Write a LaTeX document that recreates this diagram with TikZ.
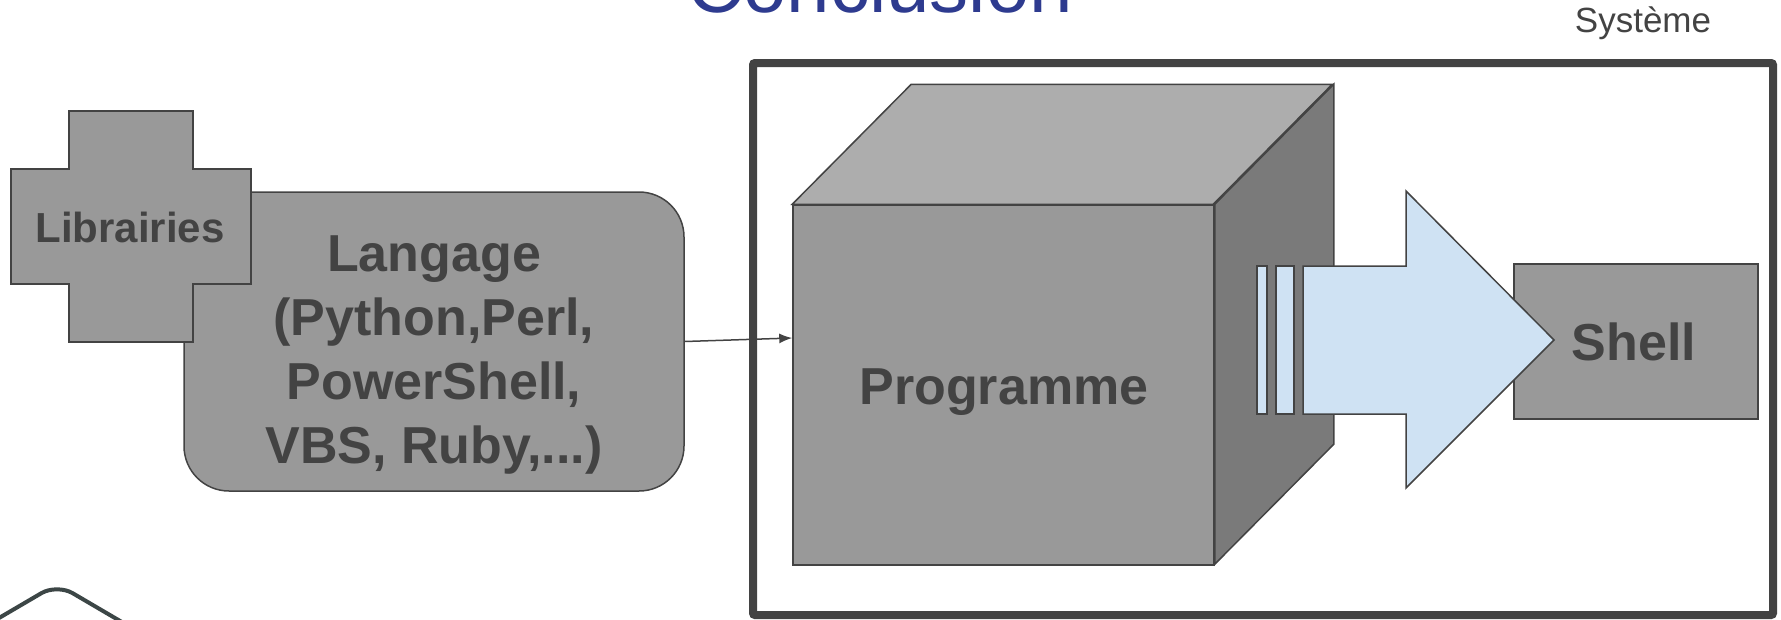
\documentclass[tikz,border=0pt]{standalone}
\usepackage{fontspec}
\setmainfont{Liberation Sans}
\usetikzlibrary{arrows.meta}
\definecolor{txt}{RGB}{67,67,67}
\definecolor{boxg}{RGB}{153,153,153}
\definecolor{topg}{RGB}{173,173,173}
\definecolor{sideg}{RGB}{122,122,122}
\definecolor{lblue}{RGB}{207,226,243}
\definecolor{ttl}{RGB}{46,59,143}
\definecolor{logo}{RGB}{60,70,70}
\begin{document}
\begin{tikzpicture}[x=1pt,y=-1pt,
  boxline/.style={draw=txt,line width=1.5pt,line join=miter},
  graybox/.style={boxline,fill=boxg,inner sep=0pt},
  barbox/.style={boxline,fill=lblue,inner sep=0pt},
  bigtxt/.style={text=txt,font=\bfseries\fontsize{52}{63.7}\selectfont},
  conn/.style={draw=txt,line width=1.5pt,-{Latex[length=13pt,width=10pt]}}]
\useasboundingbox (0,0) rectangle (1781,619);
\clip (0,0) rectangle (1781,619);

% title and system label
\node[anchor=base,text=ttl,font=\fontsize{78}{90}\selectfont] (title) at (880,12) {Conclusion};
\node[anchor=base,text=txt,font=\fontsize{35}{42}\selectfont] (sys) at (1643,32) {Système};

% system frame
\node[draw=txt,line width=8pt,rounded corners=2pt,inner sep=0pt,minimum width=1020pt,minimum height=552pt] (frame) at (1263,339) {};

% langage box
\node[graybox,rounded corners=45pt,minimum width=500pt,minimum height=299pt] (langage) at (434,341.5) {};
\node[bigtxt,align=center] (langtxt) at (434,355) {Langage\\(Python,Perl,\\PowerShell,\\VBS, Ruby,...)};

% librairies cross
\draw[graybox] (69,111) -- (193,111) -- (193,169) -- (251,169) -- (251,284) -- (193,284) -- (193,342) -- (69,342) -- (69,284) -- (11,284) -- (11,169) -- (69,169) -- cycle;
\node[anchor=base,text=txt,font=\bfseries\fontsize{42}{50}\selectfont] (libs) at (130,242) {Librairies};

% cube
\node[graybox,minimum width=421pt,minimum height=360pt] (prog) at (1003.5,385) {};
\draw[boxline,fill=topg] (prog.north west) -- ++(119,-120) -- ++(421,0) -- ++(-119,120) -- cycle;
\draw[boxline,fill=sideg] (prog.north east) -- ++(119,-120) -- ++(0,360) -- ++(-119,120) -- cycle;
\node[anchor=base,bigtxt] (progtxt) at (1004,404) {Programme};

% shell
\node[graybox,minimum width=244pt,minimum height=155pt] (shell) at (1636,341.5) {};
\node[anchor=base,bigtxt] (shelltxt) at (1634,360) {Shell};

% bars and big arrow
\node[barbox,minimum width=10pt,minimum height=148pt] (bar1) at (1262,340) {};
\node[barbox,minimum width=18pt,minimum height=148pt] (bar2) at (1285,340) {};
\draw[boxline,fill=lblue] (1303,266) -- (1406,266) -- (1406,191) -- (1554,340) -- (1406,488) -- (1406,414) -- (1303,414) -- cycle;

% connector
\draw[conn] (langage.east) -- ([yshift=47pt]prog.west);

% partial logo at bottom left
\draw[draw=logo,line width=4pt,fill=white,rounded corners=18pt] (-30,635) -- (57,584) -- (144,635);
\end{tikzpicture}
\end{document}
